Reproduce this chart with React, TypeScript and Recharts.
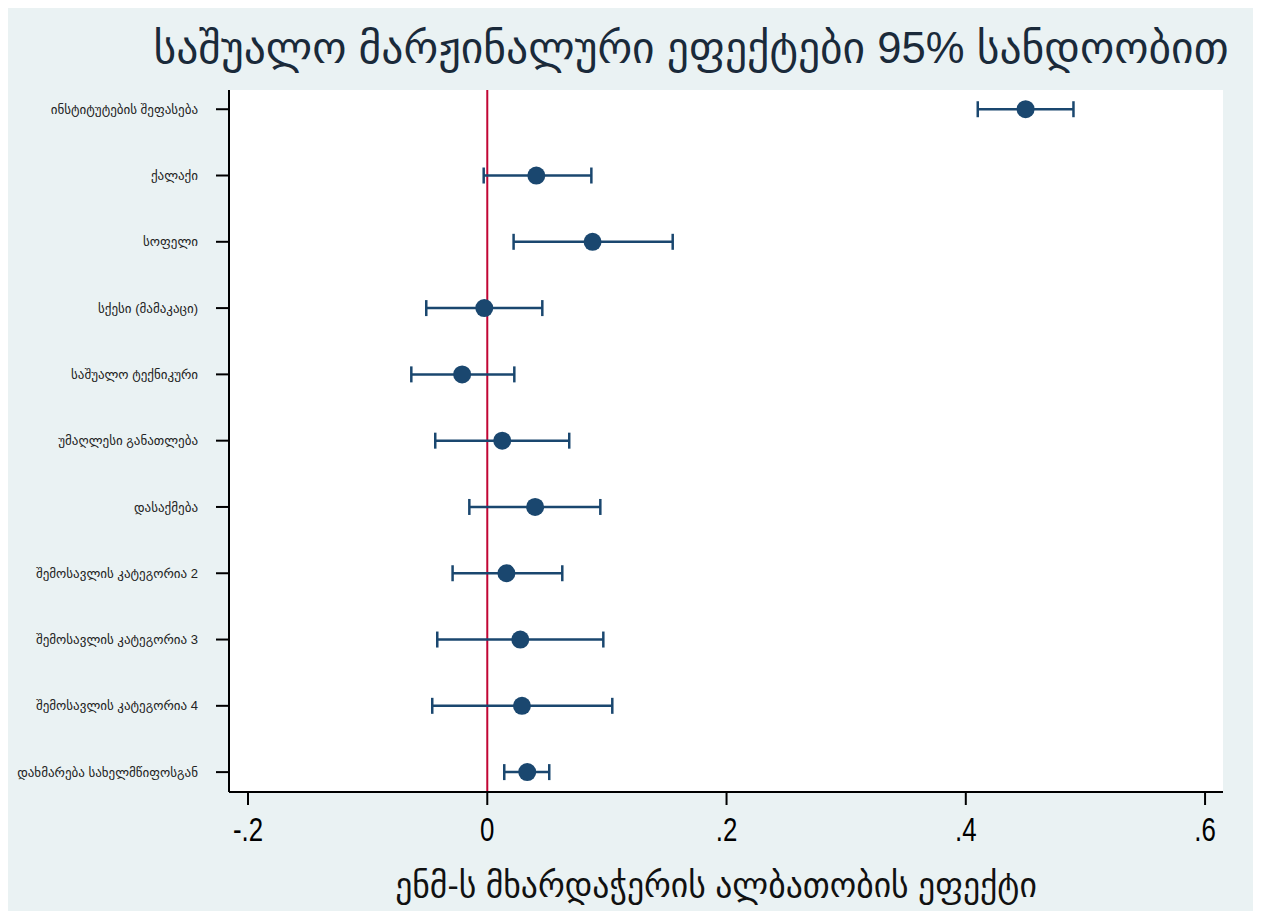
import React from "react";
import {
  ScatterChart,
  Scatter,
  XAxis,
  YAxis,
  CartesianGrid,
  ErrorBar,
  ReferenceLine,
  Label,
} from "recharts";

// rows top to bottom
const labels = [
  "ინსტიტუტების შეფასება",
  "ქალაქი",
  "სოფელი",
  "სქესი (მამაკაცი)",
  "საშუალო ტექნიკური",
  "უმაღლესი განათლება",
  "დასაქმება",
  "შემოსავლის კატეგორია 2",
  "შემოსავლის კატეგორია 3",
  "შემოსავლის კატეგორია 4",
  "დახმარება სახელმწიფოსგან",
];
const effects = [0.45, 0.041, 0.088, -0.0025, -0.021, 0.0125, 0.04, 0.016, 0.0276, 0.029, 0.0334];
const lower = [0.41, -0.003, 0.022, -0.051, -0.0635, -0.0435, -0.015, -0.029, -0.0418, -0.046, 0.0142];
const upper = [0.49, 0.087, 0.155, 0.046, 0.0226, 0.0685, 0.0945, 0.0627, 0.097, 0.1045, 0.0518];
const xTicks = [-0.2, 0, 0.2, 0.4, 0.6];

const rows = labels.map((name, i) => ({
  name,
  row: i + 1,
  effect: effects[i],
  err: [effects[i] - lower[i], upper[i] - effects[i]],
}));

const NAVY = "#1a476f";
const BG = "#eaf2f3";
const FONT = "Arial, 'Liberation Sans', 'DejaVu Sans', sans-serif";

const fmtX = (v: number) => {
  if (v === 0) return "0";
  const s = String(Number(v.toFixed(2)));
  return s.replace("0.", ".");
};

// condensed-looking tick labels like the Stata export
const XTick = (props: any) => {
  const { x, y, payload } = props;
  return (
    <g transform={`translate(${x},${y})`}>
      <text transform="scale(0.76,1)" textAnchor="middle" dy="0.71em" fontSize={34} fill="#000" fontFamily={FONT}>
        {fmtX(payload.value)}
      </text>
    </g>
  );
};

const Dot = (props: any) => <circle cx={props.cx} cy={props.cy} r={9} fill={NAVY} />;

export default function App() {
  return (
    <div style={{ position: "relative", width: 1253, height: 903, background: BG, fontFamily: FONT }}>
      <div
        style={{
          position: "absolute",
          top: 15,
          left: 0,
          width: 1366,
          textAlign: "center",
          fontSize: 43.6,
          color: "#1a2a3a",
          whiteSpace: "nowrap",
        }}
      >
        საშუალო მარჟინალური ეფექტები 95% სანდოობით
      </div>
      <ScatterChart
        width={1253}
        height={903}
        margin={{ top: 82, right: 38, bottom: 0, left: 0 }}
        style={{ position: "absolute", top: 0, left: 0 }}
      >
        <rect x={221} y={82} width={994} height={702} fill="#ffffff" />
        <CartesianGrid vertical={false} stroke={BG} strokeWidth={3} fill="#ffffff" />
        <XAxis
          type="number"
          dataKey="effect"
          domain={[-0.2159, 0.615]}
          ticks={xTicks}
          allowDataOverflow
          height={119}
          stroke="#000"
          strokeWidth={2}
          tickSize={13}
          tickMargin={12}
          tick={<XTick />}
        >
          <Label
            value="ენმ-ს მხარდაჭერის ალბათობის ეფექტი"
            position="insideBottom"
            offset={14}
            dx={-10}
            style={{ fontSize: 33.7, fill: "#111", fontFamily: FONT }}
          />
        </XAxis>
        <YAxis
          type="number"
          dataKey="row"
          domain={[0.71, 11.3]}
          reversed
          ticks={[1, 2, 3, 4, 5, 6, 7, 8, 9, 10, 11]}
          interval={0}
          tickFormatter={(v: number) => labels[v - 1] ?? ""}
          allowDataOverflow
          width={221}
          stroke="#000"
          strokeWidth={2}
          tickSize={13}
          tickMargin={18}
          tick={{ fontSize: 13, fill: "#222", fontFamily: FONT }}
        />
        <ReferenceLine x={0} stroke="#c10534" strokeWidth={2} />
        <Scatter data={rows} shape={Dot} isAnimationActive={false}>
          <ErrorBar dataKey="err" direction="x" width={8} stroke={NAVY} strokeWidth={2.5} />
        </Scatter>
      </ScatterChart>
    </div>
  );
}
